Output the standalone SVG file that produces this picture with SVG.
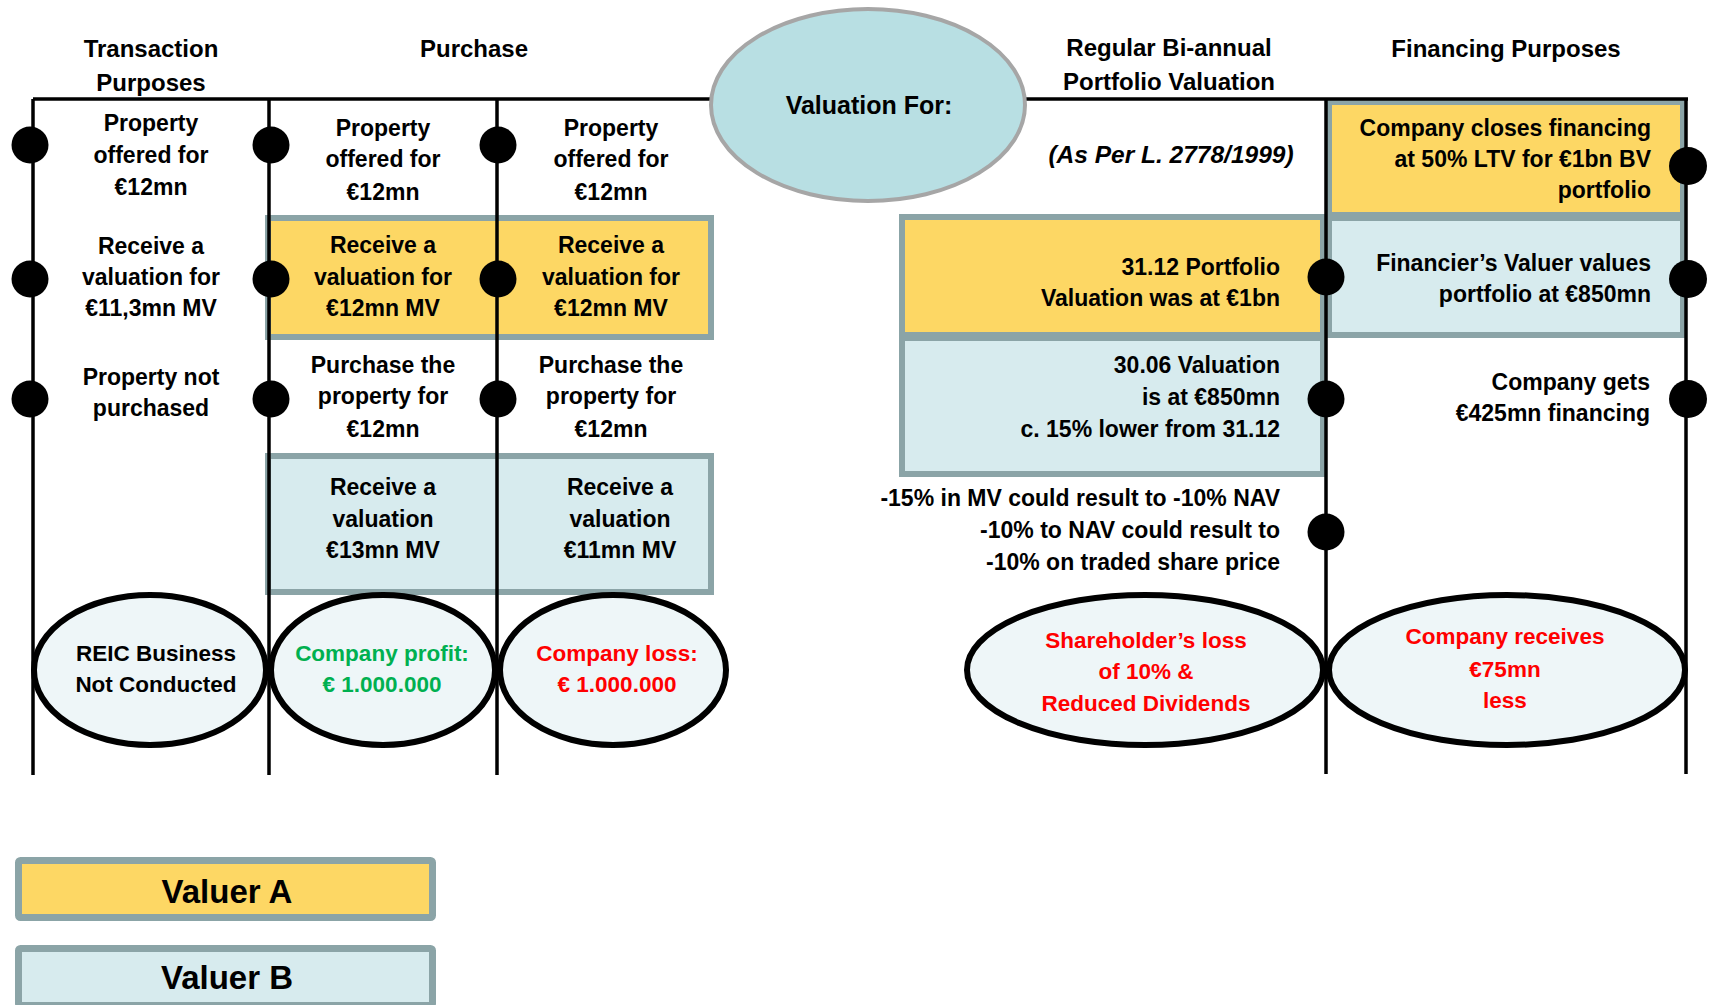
<svg xmlns="http://www.w3.org/2000/svg" width="1712" height="1005" viewBox="0 0 1712 1005">
<style>
text{font-family:"Liberation Sans",Arial,sans-serif;font-weight:bold;font-size:23px;fill:#000}
.h{font-size:24px}
.c{text-anchor:middle}
.r{text-anchor:end}
.it{font-style:italic;font-size:24.5px}
.e{font-size:22.5px}
.red{fill:#FF0000}
.grn{fill:#00B050}
.ya{fill:#FDD764;stroke:#8BA4A7;stroke-width:6}
.vb{fill:#D7EBEE;stroke:#8BA4A7;stroke-width:6}
.ln{stroke:#000;stroke-width:3.5;fill:none}
.dot{fill:#000}
.res{fill:#EEF6F8;stroke:#000;stroke-width:6}
.leg{font-size:33px}
</style>
<rect width="1712" height="1005" fill="#fff"/>

<g id="boxes">
  <rect id="purchase-valuerA" class="ya" x="268" y="218" width="443" height="119"/>
  <rect id="purchase-valuerB" class="vb" x="268" y="456" width="443" height="136"/>
  <rect id="portfolio-valuerA" class="ya" x="902" y="217" width="421" height="118"/>
  <rect id="portfolio-valuerB" class="vb" x="902" y="338" width="421" height="136"/>
  <rect id="financing-valuerA" class="ya" x="1329" y="102" width="354" height="113"/>
  <rect id="financing-valuerB" class="vb" x="1329" y="218" width="354" height="117"/>
</g>

<g id="connectors">
  <line class="ln" x1="33" y1="99" x2="1688" y2="99"/>
  <line class="ln" x1="33" y1="99" x2="33" y2="775"/>
  <line class="ln" x1="269" y1="99" x2="269" y2="775"/>
  <line class="ln" x1="497" y1="99" x2="497" y2="775"/>
  <line class="ln" x1="1326" y1="99" x2="1326" y2="774"/>
  <line class="ln" x1="1686" y1="99" x2="1686" y2="774"/>
</g>

<g id="dots">
  <circle class="dot" cx="30" cy="145" r="18.5"/>
  <circle class="dot" cx="30" cy="279" r="18.5"/>
  <circle class="dot" cx="30" cy="399" r="18.5"/>
  <circle class="dot" cx="271" cy="145" r="18.5"/>
  <circle class="dot" cx="271" cy="279" r="18.5"/>
  <circle class="dot" cx="271" cy="399" r="18.5"/>
  <circle class="dot" cx="498" cy="145" r="18.5"/>
  <circle class="dot" cx="498" cy="279" r="18.5"/>
  <circle class="dot" cx="498" cy="399" r="18.5"/>
  <circle class="dot" cx="1326" cy="277" r="18.5"/>
  <circle class="dot" cx="1326" cy="399" r="18.5"/>
  <circle class="dot" cx="1326" cy="532" r="18.5"/>
  <circle class="dot" cx="1688" cy="166" r="19"/>
  <circle class="dot" cx="1688" cy="279" r="19"/>
  <circle class="dot" cx="1688" cy="399" r="19"/>
</g>

<g id="valuation-for">
  <ellipse cx="868" cy="105" rx="157" ry="96" fill="#B8DFE3" stroke="#A6A6A6" stroke-width="4"/>
  <text class="c" x="869" y="114" style="font-size:25px">Valuation For:</text>
</g>

<g id="headers">
  <text class="c h" x="151" y="57">Transaction</text>
  <text class="c h" x="151" y="91">Purposes</text>
  <text class="c h" x="474" y="57">Purchase</text>
  <text class="c h" x="1169" y="56">Regular Bi-annual</text>
  <text class="c h" x="1169" y="90">Portfolio Valuation</text>
  <text class="c h" x="1506" y="57">Financing Purposes</text>
  <text class="c it" x="1171" y="163">(As Per L. 2778/1999)</text>
</g>

<g id="col-transaction">
  <text class="c" x="151" y="131">Property</text>
  <text class="c" x="151" y="163">offered for</text>
  <text class="c" x="151" y="195">€12mn</text>
  <text class="c" x="151" y="254">Receive a</text>
  <text class="c" x="151" y="285">valuation for</text>
  <text class="c" x="151" y="316">€11,3mn MV</text>
  <text class="c" x="151" y="385">Property not</text>
  <text class="c" x="151" y="416">purchased</text>
</g>

<g id="col-purchase-1">
  <text class="c" x="383" y="136">Property</text>
  <text class="c" x="383" y="167">offered for</text>
  <text class="c" x="383" y="200">€12mn</text>
  <text class="c" x="383" y="253">Receive a</text>
  <text class="c" x="383" y="285">valuation for</text>
  <text class="c" x="383" y="316">€12mn MV</text>
  <text class="c" x="383" y="373">Purchase the</text>
  <text class="c" x="383" y="404">property for</text>
  <text class="c" x="383" y="437">€12mn</text>
  <text class="c" x="383" y="495">Receive a</text>
  <text class="c" x="383" y="527">valuation</text>
  <text class="c" x="383" y="558">€13mn MV</text>
</g>

<g id="col-purchase-2">
  <text class="c" x="611" y="136">Property</text>
  <text class="c" x="611" y="167">offered for</text>
  <text class="c" x="611" y="200">€12mn</text>
  <text class="c" x="611" y="253">Receive a</text>
  <text class="c" x="611" y="285">valuation for</text>
  <text class="c" x="611" y="316">€12mn MV</text>
  <text class="c" x="611" y="373">Purchase the</text>
  <text class="c" x="611" y="404">property for</text>
  <text class="c" x="611" y="437">€12mn</text>
  <text class="c" x="620" y="495">Receive a</text>
  <text class="c" x="620" y="527">valuation</text>
  <text class="c" x="620" y="558">€11mn MV</text>
</g>

<g id="col-portfolio">
  <text class="r" x="1280" y="275">31.12 Portfolio</text>
  <text class="r" x="1280" y="306">Valuation was at €1bn</text>
  <text class="r" x="1280" y="373">30.06 Valuation</text>
  <text class="r" x="1280" y="405">is at €850mn</text>
  <text class="r" x="1280" y="437">c. 15% lower from 31.12</text>
  <text class="r" x="1280" y="506">-15% in MV could result to -10% NAV</text>
  <text class="r" x="1280" y="538">-10% to NAV could result to</text>
  <text class="r" x="1280" y="570">-10% on traded share price</text>
</g>

<g id="col-financing">
  <text class="r" x="1651" y="136">Company closes financing</text>
  <text class="r" x="1651" y="167">at 50% LTV for €1bn BV</text>
  <text class="r" x="1651" y="198">portfolio</text>
  <text class="r" x="1651" y="271">Financier’s Valuer values</text>
  <text class="r" x="1651" y="302">portfolio at €850mn</text>
  <text class="r" x="1650" y="390">Company gets</text>
  <text class="r" x="1650" y="421">€425mn financing</text>
</g>

<g id="result-reic">
  <ellipse class="res" cx="150" cy="670" rx="116" ry="75"/>
  <text class="c e" x="156" y="661">REIC Business</text>
  <text class="c e" x="156" y="692">Not Conducted</text>
</g>
<g id="result-profit">
  <ellipse class="res" cx="383" cy="670" rx="112" ry="75"/>
  <text class="c e grn" x="382" y="661">Company profit:</text>
  <text class="c e grn" x="382" y="692">€ 1.000.000</text>
</g>
<g id="result-loss">
  <ellipse class="res" cx="613" cy="670" rx="113" ry="75"/>
  <text class="c e red" x="617" y="661">Company loss:</text>
  <text class="c e red" x="617" y="692">€ 1.000.000</text>
</g>
<g id="result-shareholder">
  <ellipse class="res" cx="1145" cy="670" rx="178" ry="75"/>
  <text class="c e red" x="1146" y="648">Shareholder’s loss</text>
  <text class="c e red" x="1146" y="679">of 10% &amp;</text>
  <text class="c e red" x="1146" y="711">Reduced Dividends</text>
</g>
<g id="result-financing">
  <ellipse class="res" cx="1507" cy="670" rx="178" ry="75"/>
  <text class="c e red" x="1505" y="644">Company receives</text>
  <text class="c e red" x="1505" y="677">€75mn</text>
  <text class="c e red" x="1505" y="708">less</text>
</g>

<g id="legend-a">
  <rect class="ya" x="18.5" y="860.5" width="414" height="57" rx="2" style="stroke-width:7"/>
  <text class="c leg" x="227" y="903">Valuer A</text>
</g>
<g id="legend-b">
  <rect class="vb" x="18.5" y="948.5" width="414" height="57" rx="2" style="stroke-width:7"/>
  <text class="c leg" x="227" y="989">Valuer B</text>
</g>
</svg>
